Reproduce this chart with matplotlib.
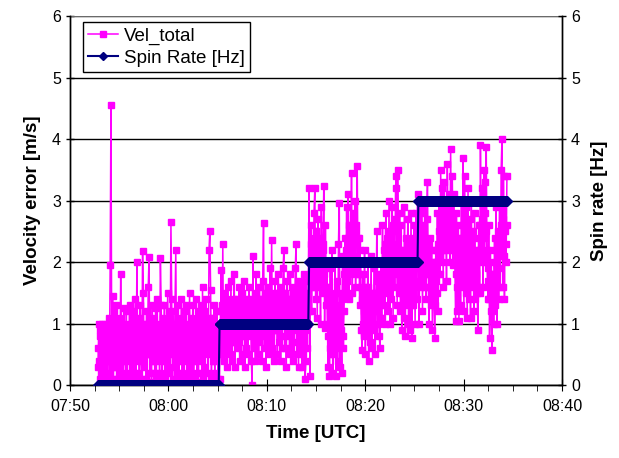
import matplotlib.pyplot as plt
import numpy as np

# time in minutes after 07:50, spin rate changes at these edges
seg_edges = [2.85, 15.2, 24.3, 35.4, 44.4]
spin_levels = [0, 1, 2, 3]

# velocity error [m/s], one list per spin rate segment
vel_seg0 = [0.3, 1.0, 0.1, 0.9, 0.2, 1.0, 0.05, 0.7, 0.3, 1.0,
            0.1, 0.8, 0.4, 1.1, 0.2, 1.95, 4.55, 0.3, 1.45, 0.1,
            1.2, 0.5, 1.3, 0.1, 0.9, 0.3, 1.1, 0.2, 1.8, 0.4,
            1.0, 0.1, 1.25, 0.6, 0.2, 1.2, 0.05, 0.9, 0.5, 1.3,
            0.1, 1.0, 0.3, 1.2, 0.2, 0.8, 1.4, 0.1, 2.0, 0.6,
            1.1, 0.2, 1.3, 0.4, 0.1, 2.18, 1.5, 0.3, 1.0, 0.1,
            1.2, 0.5, 1.6, 2.08, 0.2, 1.1, 0.05, 1.3, 0.4, 1.0,
            0.2, 1.25, 0.1, 1.4, 0.6, 0.9, 0.2, 2.06, 1.3, 0.1,
            1.1, 0.4, 1.3, 0.1, 1.0, 0.3, 1.5, 0.2, 1.2, 0.5,
            2.65, 1.4, 0.1, 1.0, 0.3, 1.2, 2.2, 0.2, 1.3, 0.6,
            0.1, 1.1, 0.4, 1.4, 0.2, 1.0, 0.05, 1.2, 0.5, 1.3,
            0.1, 0.9, 0.3, 1.5, 0.2, 1.1, 0.6, 1.3, 0.1, 1.0,
            0.4, 1.4, 0.2, 1.2, 0.05, 1.1, 0.5, 1.3, 0.2, 1.6,
            0.1, 1.2, 0.3, 1.4, 0.6, 1.0, 0.2, 2.2, 2.5, 1.55,
            0.1, 1.1, 0.4, 1.3, 0.2, 1.0, 0.5, 1.2, 0.1, 0.9]
vel_seg1 = [0.1, 0.9, 1.87, 0.5, 2.3, 0.4, 1.5, 0.6, 1.2, 0.3,
            1.6, 0.8, 1.3, 0.5, 1.7, 0.4, 1.1, 0.7, 1.8, 0.3,
            1.4, 0.6, 1.2, 0.9, 1.6, 0.4, 1.3, 0.5, 1.5, 0.8,
            1.7, 0.3, 1.2, 0.6, 1.4, 0.5, 1.6, 0.9, 1.3, 0.4,
            0.0, 2.1, 0.6, 1.5, 0.4, 1.8, 0.7, 1.3, 0.5, 1.6,
            0.8, 1.4, 0.4, 1.7, 2.63, 0.6, 1.5, 0.3, 1.3, 0.7,
            1.6, 0.5, 1.9, 0.8, 2.36, 0.6, 1.4, 0.4, 1.7, 0.9,
            1.5, 0.5, 1.8, 0.7, 1.3, 0.4, 1.6, 0.6, 1.9, 2.2,
            0.6, 1.5, 0.3, 1.7, 0.8, 1.4, 0.5, 1.8, 0.6, 1.6,
            0.4, 1.5, 0.7, 1.9, 2.3, 0.5, 1.6, 0.3, 1.7, 0.6,
            1.4, 0.3, 1.6, 0.5, 1.8, 0.1, 0.4, 1.5, 0.6, 1.7]
vel_seg2 = [3.2, 0.15, 2.6, 1.2, 2.2, 1.6, 2.8, 3.2, 1.4, 2.5,
            1.1, 2.7, 1.8, 2.4, 1.0, 2.9, 1.5, 2.2, 3.24, 0.93,
            2.6, 1.3, 2.0, 0.3, 1.6, 0.15, 1.9, 0.5, 2.2, 0.2,
            1.4, 0.6, 2.0, 0.15, 1.7, 0.4, 2.3, 2.96, 0.3, 1.5,
            0.2, 2.1, 0.6, 1.8, 2.4, 1.5, 2.9, 1.7, 3.1, 1.4,
            2.6, 1.8, 3.45, 1.5, 2.8, 2.0, 3.0, 1.6, 2.5, 3.56,
            1.8, 2.4, 1.3, 2.0, 0.9, 0.57, 1.8, 0.8, 2.2, 0.5,
            1.6, 0.9, 2.0, 0.4, 1.4, 0.7, 2.1, 0.6, 1.5, 0.9,
            1.9, 0.5, 1.2, 2.5, 1.0, 1.8, 0.8, 0.6, 2.0, 1.1,
            2.6, 1.3, 2.2, 1.0, 2.8, 1.5, 2.4, 1.2, 3.0, 1.0,
            2.5, 1.4, 2.9, 1.1, 2.7, 1.6, 3.2, 3.4, 1.3, 3.5,
            1.5, 2.8, 1.2, 2.6, 0.9, 2.2, 1.1, 2.9, 0.8, 2.4,
            1.3, 2.7, 1.0, 2.3, 0.9, 2.8, 0.76, 2.4, 1.3, 2.6,
            1.0, 2.8, 1.4, 3.1]
vel_seg3 = [2.5, 1.0, 2.9, 1.6, 2.8, 1.2, 2.6, 1.9, 3.0, 1.4,
            2.7, 3.3, 1.8, 1.0, 2.4, 1.3, 2.2, 0.9, 2.0, 1.4,
            0.76, 2.2, 1.5, 2.8, 1.2, 3.0, 1.8, 3.5, 2.0, 3.2,
            1.6, 3.3, 2.2, 2.9, 1.7, 3.6, 2.3, 3.1, 2.0, 3.84,
            2.2, 3.4, 1.95, 3.1, 2.1, 1.05, 2.8, 1.2, 2.6, 1.05,
            2.4, 1.3, 3.0, 1.6, 3.7, 1.2, 3.4, 1.5, 2.9, 1.1,
            3.2, 1.4, 2.7, 1.1, 3.0, 1.6, 2.5, 1.2, 2.8, 1.4,
            2.2, 1.5, 0.9, 2.6, 1.5, 3.9, 2.4, 3.2, 1.6, 3.5,
            2.0, 3.3, 3.87, 2.0, 1.4, 2.6, 0.76, 2.2, 1.2, 0.57,
            1.8, 1.0, 2.4, 1.3, 2.9, 1.0, 2.5, 1.4, 3.0, 1.6,
            3.5, 4.0, 1.6, 3.4, 1.4, 3.0, 2.0, 3.4]

# in-between samples (the dense middle of the band)
vel_mid0 = [0.6, 0.4, 0.8, 0.5, 0.7, 0.3, 0.9, 0.6, 0.5, 0.8,
            0.4, 0.7, 0.9, 0.5, 0.6, 1.0, 0.4, 0.8, 0.6, 0.7,
            0.9, 0.3, 0.7, 0.6, 1.0, 0.5, 0.8, 0.7, 0.4, 0.9,
            0.6, 0.8, 0.5, 1.0, 0.7, 0.4, 0.9, 0.6, 0.8, 0.5,
            0.7, 1.1, 0.6, 0.8, 0.5, 0.9, 0.7, 0.4, 1.0, 0.6,
            0.8, 0.5, 0.7, 0.9, 0.6, 1.0, 0.4, 0.8, 0.7, 0.5,
            0.9, 0.6, 1.1, 0.7, 0.5, 0.8, 0.6, 1.0, 0.4, 0.7,
            0.9, 0.6, 0.8, 0.5, 1.0, 0.7, 0.4, 0.9, 0.6, 0.8,
            0.5, 1.0, 0.7, 0.6, 0.9, 0.4, 0.8, 0.7, 1.1, 0.5,
            0.7, 0.9, 0.6, 0.8, 0.5, 1.0, 0.7, 0.4, 0.9, 0.6,
            0.8, 0.5, 1.0, 0.7, 0.6, 0.9, 0.4, 0.8, 0.7, 1.0,
            0.5, 0.8, 0.6, 0.9, 0.7, 0.4, 1.0, 0.6, 0.8, 0.5,
            0.9, 0.7, 0.6, 1.0, 0.5, 0.8, 0.7, 0.9, 0.4, 0.8,
            0.6, 1.0, 0.7, 0.5, 0.9, 0.6, 0.8, 1.1, 0.7, 0.5,
            0.9, 0.6, 0.8, 0.4, 0.7, 0.9, 0.6, 0.8, 0.5, 0.7]
vel_mid1 = [0.8, 1.2, 0.9, 1.3, 0.7, 1.1, 1.0, 1.4, 0.8, 1.2,
            0.9, 1.3, 1.0, 0.7, 1.2, 1.1, 0.9, 1.4, 0.8, 1.0,
            1.2, 0.9, 1.3, 0.7, 1.1, 1.0, 1.4, 0.8, 1.2, 1.0,
            1.1, 0.9, 1.3, 1.0, 0.8, 1.2, 1.1, 1.4, 0.9, 1.2,
            1.0, 1.3, 0.8, 1.1, 1.2, 0.9, 1.4, 1.0, 1.2, 0.9,
            1.3, 1.1, 1.0, 1.4, 0.8, 1.2, 1.1, 1.3, 0.9, 1.2,
            1.0, 1.4, 1.1, 1.3, 0.9, 1.2, 1.0, 1.5, 1.1, 1.3,
            0.9, 1.2, 1.1, 1.4, 1.0, 1.3, 0.8, 1.2, 1.1, 1.5,
            1.0, 1.3, 1.1, 1.2, 0.9, 1.4, 1.0, 1.3, 1.2, 1.1,
            1.3, 0.9, 1.2, 1.4, 1.0, 1.3, 1.1, 1.5, 0.9, 1.2,
            1.1, 1.4, 1.0, 1.3, 1.2, 0.9, 1.1, 1.3, 1.0, 1.2]
vel_mid2 = [2.0, 1.8, 2.3, 1.6, 2.4, 1.9, 2.2, 1.7, 2.5, 2.0,
            1.8, 2.2, 1.6, 2.4, 1.9, 2.1, 1.7, 2.3, 1.8, 2.0,
            1.6, 2.0, 1.0, 0.8, 1.3, 0.6, 1.1, 0.9, 1.4, 0.5,
            1.2, 0.8, 1.5, 0.6, 1.1, 1.0, 1.3, 0.7, 1.2, 0.9,
            1.4, 0.8, 1.2, 1.6, 1.5, 2.2, 1.9, 2.4, 2.1, 2.6,
            2.0, 2.5, 2.2, 2.7, 1.9, 2.4, 2.1, 2.6, 2.3, 2.0,
            2.4, 1.8, 2.2, 1.6, 1.4, 1.0, 1.3, 1.2, 1.5, 1.0,
            1.3, 1.1, 1.6, 0.9, 1.2, 1.4, 1.0, 1.5, 1.2, 1.3,
            1.0, 1.5, 1.3, 1.7, 1.2, 1.4, 1.1, 1.3, 1.6, 1.8,
            2.0, 1.7, 2.3, 1.9, 2.1, 1.8, 2.5, 2.0, 2.2, 1.7,
            2.4, 1.9, 2.1, 2.6, 2.0, 2.3, 1.8, 2.5, 2.1, 2.2,
            1.9, 2.2, 1.7, 2.0, 1.5, 1.8, 1.6, 2.1, 1.4, 1.9,
            1.7, 2.0, 1.5, 1.8, 1.6, 2.1, 1.3, 1.9, 1.7, 2.0,
            1.6, 2.2, 1.9, 2.4]
vel_mid3 = [1.9, 2.2, 1.7, 2.4, 1.8, 2.0, 2.3, 1.6, 2.2, 1.9,
            2.1, 1.8, 2.3, 1.6, 1.9, 1.5, 1.8, 1.4, 1.7, 2.0,
            1.3, 1.7, 2.0, 2.3, 1.8, 2.5, 2.1, 2.6, 2.4, 2.7,
            2.2, 2.5, 2.8, 2.4, 2.6, 2.9, 2.5, 2.7, 2.3, 2.8,
            2.6, 2.4, 2.7, 2.2, 2.5, 1.8, 2.2, 1.6, 2.0, 1.7,
            2.1, 1.8, 2.4, 2.0, 2.6, 1.9, 2.3, 2.1, 2.5, 1.8,
            2.2, 2.0, 2.4, 1.7, 2.3, 1.9, 2.1, 1.8, 2.4, 2.0,
            1.8, 2.1, 1.6, 2.0, 2.2, 2.6, 2.3, 2.7, 2.1, 2.5,
            2.4, 2.8, 2.5, 2.2, 1.9, 1.7, 1.4, 1.8, 1.5, 1.2,
            1.6, 1.4, 2.0, 1.8, 2.2, 1.6, 2.1, 1.9, 2.4, 2.2,
            2.6, 2.9, 2.3, 2.7, 2.1, 2.5, 2.3, 2.6]

tick_min = [0, 10, 20, 30, 40, 50]
tick_labels = ["07:50", "08:00", "08:10", "08:20", "08:30", "08:40"]

segs = [vel_seg0, vel_seg1, vel_seg2, vel_seg3]
mids = [vel_mid0, vel_mid1, vel_mid2, vel_mid3]
t_all, v_all, s_all = [], [], []
tm_all, vm_all = [], []
for k, seg in enumerate(segs):
    last = k == len(segs) - 1
    t0, t1 = seg_edges[k], seg_edges[k + 1]
    t = np.linspace(t0, t1, len(seg), endpoint=last)
    t_all.extend(t)
    v_all.extend(seg)
    s_all.extend([spin_levels[k]] * len(seg))
    n = len(mids[k])
    tm_all.extend(np.linspace(t0, t1, n, endpoint=False) + (t1 - t0) / n / 2)
    vm_all.extend(mids[k])

plt.rcParams['font.family'] = ['Liberation Sans', 'DejaVu Sans']

fig = plt.figure(figsize=(6.19, 4.58), dpi=100)
ax = fig.add_axes([0.113, 0.159, 0.795, 0.806])
ax2 = ax.twinx()

ax.plot(tm_all, vm_all, color='#FF00FF', lw=1.1, marker='s', ms=5, zorder=3)
l1, = ax.plot(t_all, v_all, color='#FF00FF', lw=1.1, marker='s', ms=5,
              label='Vel_total', zorder=3)
l2, = ax2.plot(t_all, s_all, color='#000080', lw=1.5, marker='D', ms=5,
               label='Spin Rate [Hz]', zorder=4)

for a in (ax, ax2):
    a.set_ylim(0, 6)
    a.set_yticks(range(7))
    a.tick_params(axis='y', direction='inout', length=6, labelsize=11.5, width=1)
ax.set_xlim(0, 50)
ax.set_xticks(tick_min)
ax.set_xticklabels(tick_labels)
ax.set_xticks(np.arange(0, 50, 2.5), minor=True)
ax.tick_params(axis='x', which='major', direction='inout', length=8, labelsize=11.5, pad=6)
ax.tick_params(axis='x', which='minor', direction='out', length=4)

ax.grid(axis='y', color='black', lw=1)
ax.set_axisbelow(True)
for a in (ax, ax2):
    a.spines['top'].set_visible(False)
    for s in ('left', 'right', 'bottom'):
        a.spines[s].set_linewidth(1)
ax.axhline(6, color='#808080', lw=1.2, zorder=1)

ax.set_xlabel('Time [UTC]', fontsize=13.5, fontweight='bold', labelpad=8)
ax.set_ylabel('Velocity error [m/s]', fontsize=13.5, fontweight='bold', labelpad=8)
ax2.set_ylabel('Spin rate [Hz]', fontsize=13.5, fontweight='bold', labelpad=8)

leg = ax2.legend(handles=[l1, l2], loc='upper left', bbox_to_anchor=(0.026, 0.984),
                 borderaxespad=0, fontsize=13.5, fancybox=False, framealpha=1,
                 edgecolor='black', handlelength=1.6, handletextpad=0.3,
                 labelspacing=0.25, borderpad=0.3, markerscale=0.75)
leg.get_frame().set_linewidth(1)

fig.savefig('out.png', dpi=100)
